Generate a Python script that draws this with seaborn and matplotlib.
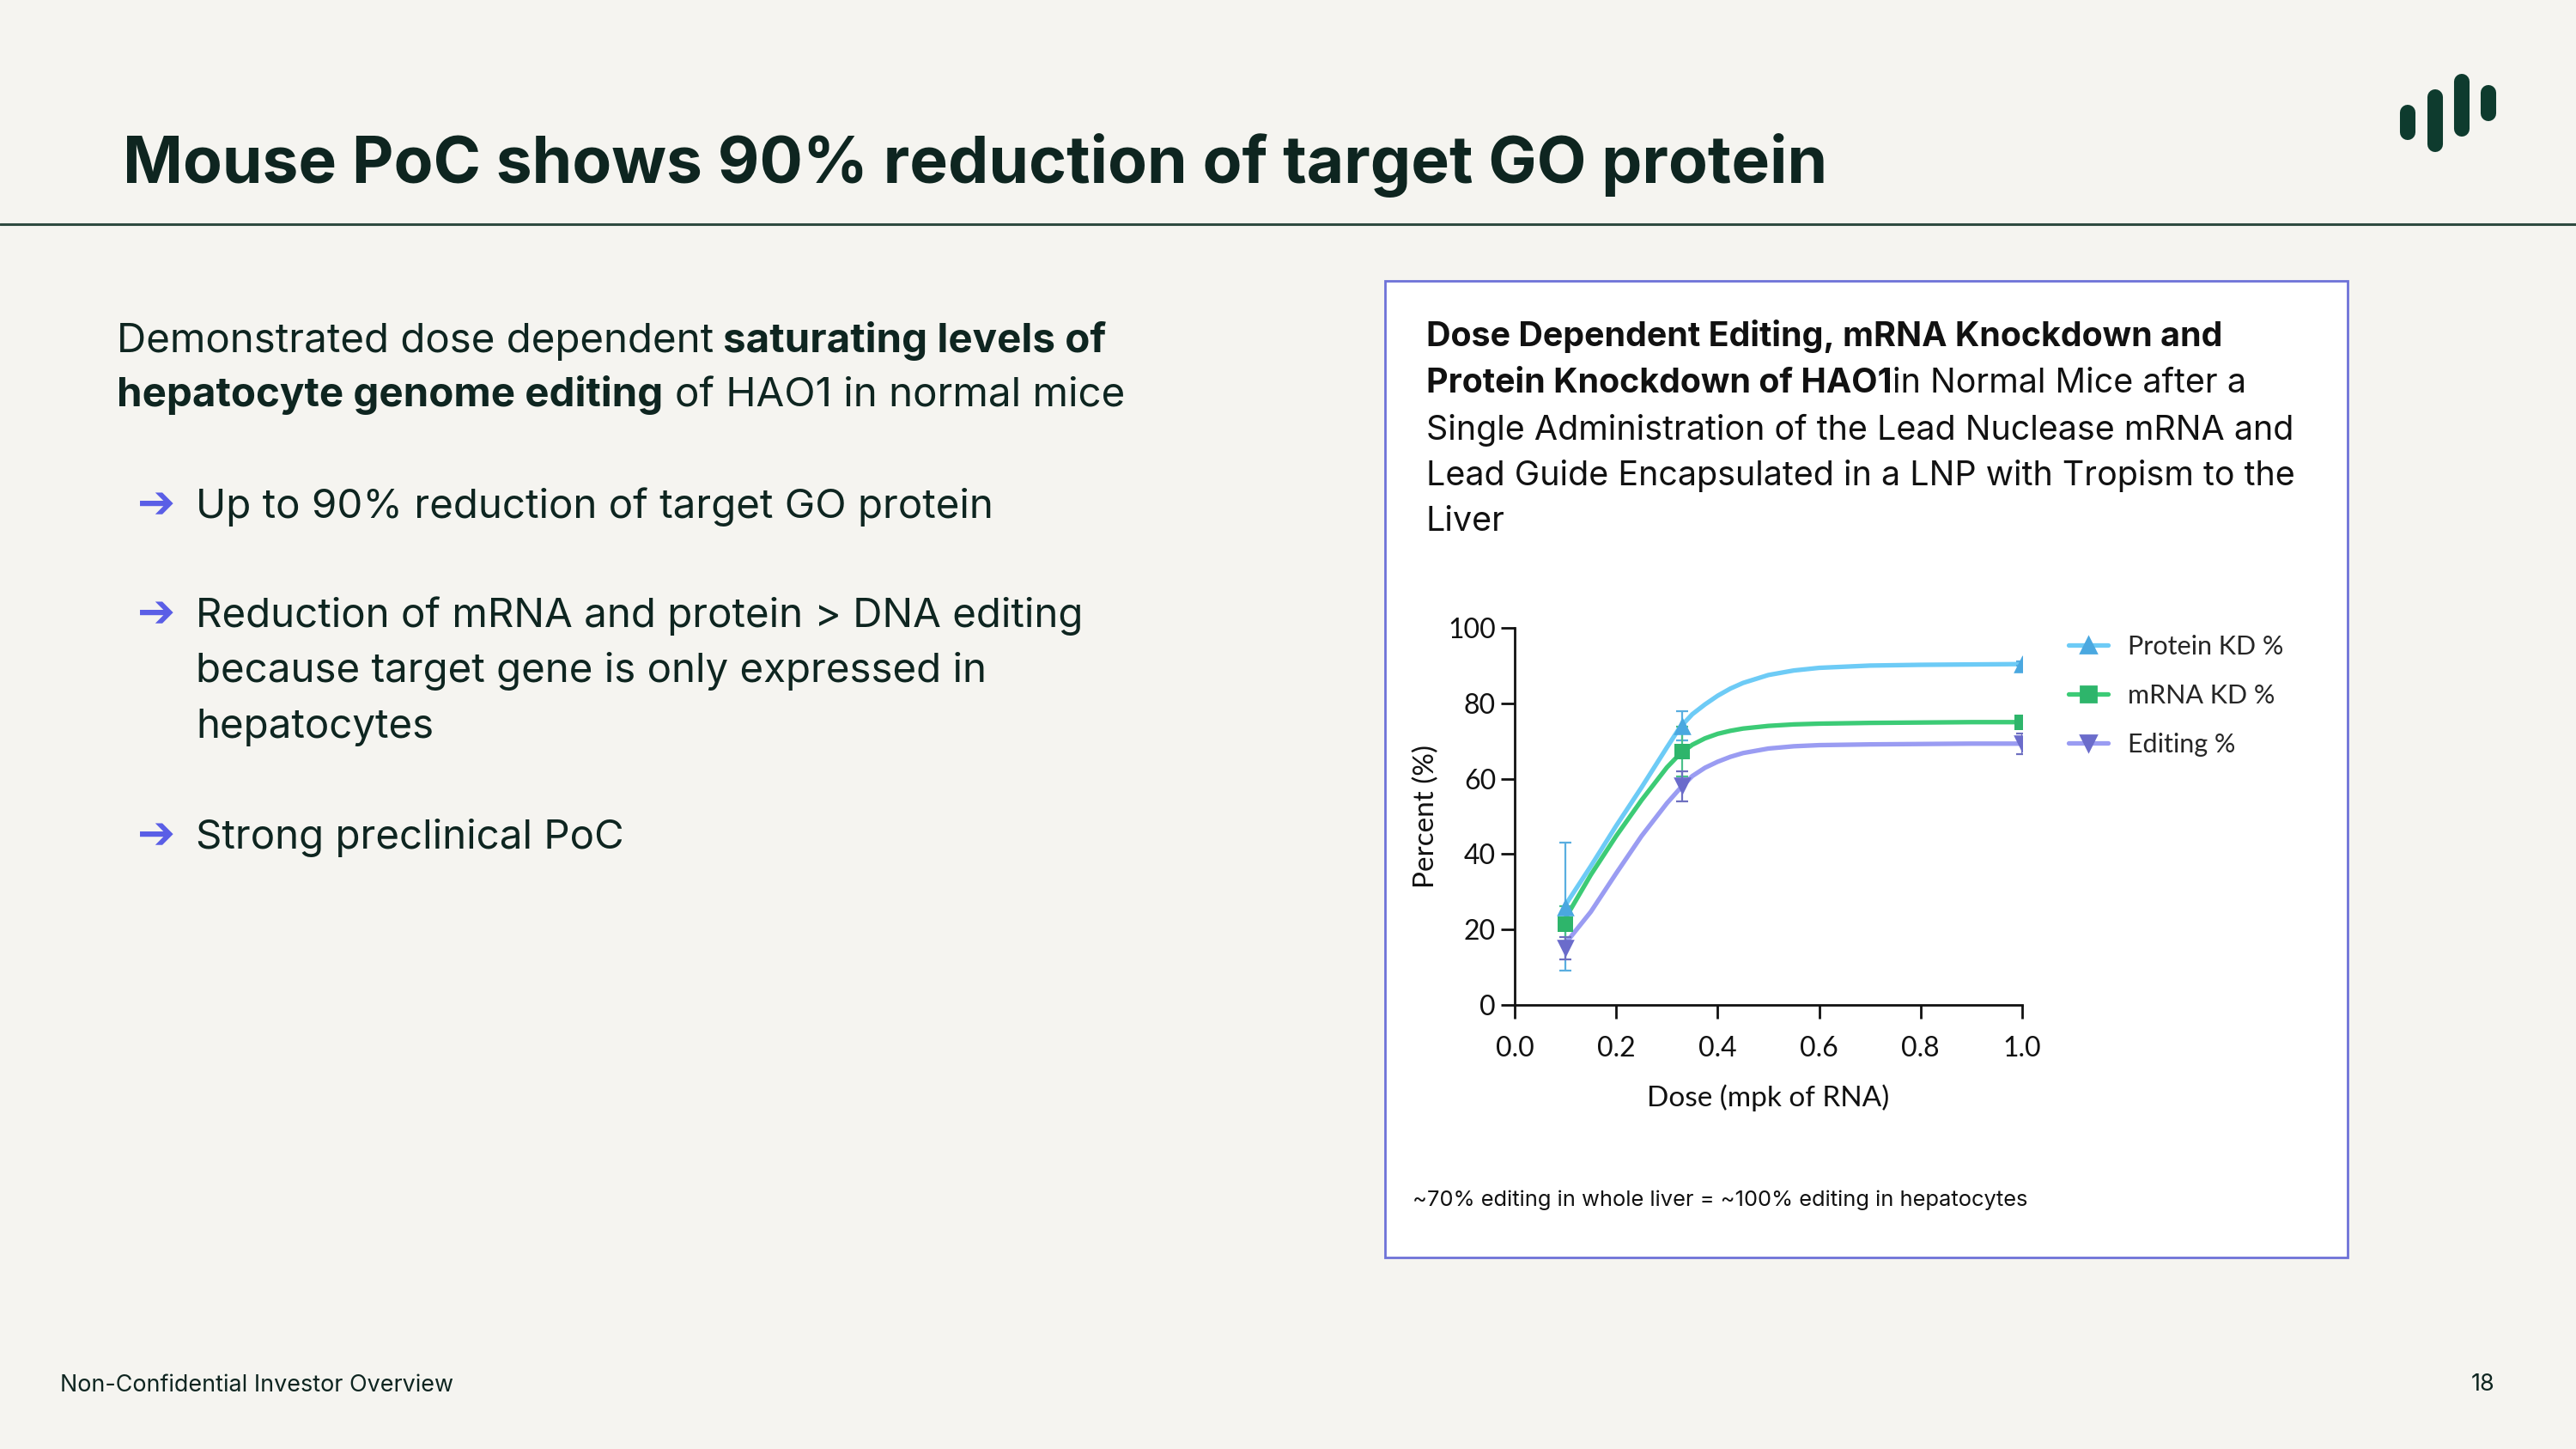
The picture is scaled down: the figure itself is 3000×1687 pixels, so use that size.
import numpy as np
import pandas as pd
import matplotlib
matplotlib.use("Agg")
import matplotlib.pyplot as plt
import seaborn as sns
from matplotlib.lines import Line2D
from matplotlib.patches import Rectangle

# ---------------- data ----------------
doses = [0.1, 0.33, 1.0]
protein_mean = [26.0, 74.0, 90.5]
protein_sd = [17.0, 3.8, 0.6]
mrna_mean = [21.5, 67.2, 75.0]
mrna_sd = [4.6, 6.5, 0.6]
editing_mean = [15.0, 58.0, 69.3]
editing_sd = [3.0, 4.0, 2.7]

# fitted curves
fit_dose = [0.1, 0.15, 0.2, 0.25, 0.3, 0.325, 0.35, 0.375, 0.4, 0.425, 0.45,
            0.5, 0.55, 0.6, 0.7, 0.8, 0.9, 1.0]
protein_fit = [26.5, 36.8, 47.5, 57.7, 68.3, 73.5, 77.1, 79.7, 82.0, 83.9, 85.4,
               87.5, 88.7, 89.4, 90.0, 90.2, 90.3, 90.4]
mrna_fit = [23.0, 34.5, 44.8, 54.3, 63.0, 66.5, 69.0, 70.7, 71.9, 72.7, 73.3,
            74.0, 74.4, 74.6, 74.8, 74.9, 75.0, 75.0]
editing_fit = [16.3, 24.7, 34.9, 44.8, 53.5, 57.3, 60.7, 62.9, 64.5, 65.8, 66.8,
               68.0, 68.6, 68.9, 69.1, 69.2, 69.3, 69.3]

series_names = ["Protein KD %", "mRNA KD %", "Editing %"]
x_ticks = [0.0, 0.2, 0.4, 0.6, 0.8, 1.0]
y_ticks = [0, 20, 40, 60, 80, 100]

title = "Mouse PoC shows 90% reduction of target GO protein"
box_lines = [
    [("Dose Dependent Editing, mRNA Knockdown and", "bold")],
    [("Protein Knockdown of HAO1", "bold"), ("in Normal Mice after a", "normal")],
    [("Single Administration of the Lead Nuclease mRNA and", "normal")],
    [("Lead Guide Encapsulated in a LNP with Tropism to the", "normal")],
    [("Liver", "normal")],
]
footnote = "~70% editing in whole liver = ~100% editing in hepatocytes"
intro_lines = [
    [("Demonstrated dose dependent", "normal"), (" saturating levels of", "bold")],
    [("hepatocyte genome editing", "bold"), (" of HAO1 in normal mice", "normal")],
]
bullets = [
    ["Up to 90% reduction of target GO protein"],
    ["Reduction of mRNA and protein > DNA editing",
     "because target gene is only expressed in",
     "hepatocytes"],
    ["Strong preclinical PoC"],
]
footer_left = "Non-Confidential Investor Overview"
page_no = "18"

# ---------------- styling ----------------
sns.set_theme(style="ticks")
CHART_FONT = ["Lato", "DejaVu Sans"]
SLIDE_FONT = ["Inter", "DejaVu Sans"]
plt.rcParams["font.family"] = CHART_FONT

W, H = 3000, 1687
BG = "#F5F4F0"
DARK = "#0E2520"
col_line = ["#6DCBF6", "#3CCB76", "#9A9CF2"]
col_mark = ["#4AA8E0", "#2EB56B", "#6B6CCB"]
col_err = ["#5AAEE0", "#4CC08A", "#6E70C0"]
markers = ["^", "s", "v"]
msizes = [55, 38, 55]

fig = plt.figure(figsize=(15, 8.435), dpi=200, facecolor=BG)
renderer = fig.canvas.get_renderer()


def fx(x):
    return x / W


def fy(y):
    return 1 - y / H


def measure(txt, size, weight, family):
    t = fig.text(0, 0, txt, fontsize=size, fontweight=weight, family=family)
    w = t.get_window_extent(renderer).width
    t.remove()
    return w


def rich(x, y, parts, size, color, family):
    for txt, wt in parts:
        if txt.startswith(" "):
            x += measure("a a", size, wt, family) - measure("aa", size, wt, family)
            txt = txt[1:]
        t = fig.text(fx(x), fy(y), txt, fontsize=size, fontweight=wt, color=color,
                     family=family, va="baseline", ha="left")
        x += t.get_window_extent(renderer).width
    return x


# title and rule
fig.text(fx(143), fy(213), title, fontsize=27.0, fontweight="bold", color=DARK,
         family=SLIDE_FONT, va="baseline", ha="left")
fig.add_artist(Line2D([0, 1], [fy(260.5), fy(260.5)], transform=fig.transFigure,
                      color="#2F4A40", lw=1.1))

# logo
for xc, y1, y2 in [(2804, 131, 154), (2835.5, 113, 168), (2867, 95, 150), (2898, 108, 132)]:
    fig.add_artist(Line2D([fx(xc), fx(xc)], [fy(y1), fy(y2)], transform=fig.transFigure,
                          color="#0E3B2E", lw=6.5, solid_capstyle="round"))

# left text
BODY = 17.1
for i, parts in enumerate(intro_lines):
    rich(136, [409.5, 473][i], parts, BODY, DARK, SLIDE_FONT)
bullet_baselines = [[603], [730.4, 794.5, 859], [988.5]]
for lines, bases in zip(bullets, bullet_baselines):
    fig.text(fx(160), fy(bases[0]), "\u2794", fontsize=19, color="#5A5EE6",
             family=["DejaVu Sans"], va="baseline", ha="left", fontweight="bold")
    for ln, b in zip(lines, bases):
        fig.text(fx(228), fy(b), ln, fontsize=BODY, color=DARK, family=SLIDE_FONT,
                 va="baseline", ha="left")

# white box
fig.add_artist(Rectangle((fx(1613), fy(1464)), fx(2734) - fx(1613), fy(327) - fy(1464),
                         transform=fig.transFigure, facecolor="white",
                         edgecolor="#6E72D8", lw=1.0, zorder=-5))
for parts, b in zip(box_lines, [403.3, 456.7, 511.5, 565, 618.3]):
    rich(1661, b, parts, 14.2, "#111111", SLIDE_FONT)
fig.text(fx(1645), fy(1404), footnote, fontsize=9.2, color="#111111", family=SLIDE_FONT,
         va="baseline", ha="left")

# footer
fig.text(fx(70), fy(1620.5), footer_left, fontsize=9.7, color=DARK, family=SLIDE_FONT,
         va="baseline", ha="left")
fig.text(fx(2905), fy(1619), page_no, fontsize=9.7, color=DARK, family=SLIDE_FONT,
         va="baseline", ha="right")

# ---------------- chart ----------------
ax = fig.add_axes([fx(1764), fy(1170), fx(2355) - fx(1764), fy(731) - fy(1170)])
ax.set_facecolor("none")

means = [protein_mean, mrna_mean, editing_mean]
sds = [protein_sd, mrna_sd, editing_sd]

fit_df = pd.DataFrame({"dose": fit_dose * 3,
                       "value": protein_fit + mrna_fit + editing_fit,
                       "series": sum([[n] * len(fit_dose) for n in series_names], [])})
sns.lineplot(data=fit_df, x="dose", y="value", hue="series", hue_order=series_names,
             palette=col_line, linewidth=1.9, sort=False, legend=False, ax=ax,
             zorder=2)

for i in range(3):
    ax.errorbar(doses, means[i], yerr=sds[i], fmt="none", ecolor=col_err[i],
                elinewidth=0.8, capsize=2.4, capthick=0.8, zorder=3)
    sns.scatterplot(x=doses, y=means[i], marker=markers[i], s=msizes[i],
                    color=col_mark[i], edgecolor=col_mark[i], linewidth=0,
                    ax=ax, zorder=4, legend=False)

ax.set_xlim(0, 1.0)
ax.set_ylim(0, 100)
ax.set_xticks(x_ticks)
ax.set_xticklabels([f"{v:.1f}" for v in x_ticks])
ax.set_yticks(y_ticks)
ax.set_yticklabels([str(v) for v in y_ticks])
for s in ["top", "right"]:
    ax.spines[s].set_visible(False)
for s in ["left", "bottom"]:
    ax.spines[s].set_linewidth(1.0)
    ax.spines[s].set_color("#111111")
ax.tick_params(axis="both", direction="out", length=5.9, width=1.0, color="#111111",
               labelsize=11.5, labelcolor="#111111")
ax.tick_params(axis="x", pad=7)
ax.tick_params(axis="y", pad=2)
ax.set_xlabel("Dose (mpk of RNA)", fontsize=12, color="#111111")
ax.set_ylabel("Percent (%)", fontsize=12, color="#111111")
ax.xaxis.set_label_coords(0.5, (1170 - 1278) / 439)
ax.xaxis.label.set_va("center")
ax.yaxis.set_label_coords((1661 - 1764) / 591, 0.5)
ax.yaxis.label.set_va("center")

handles = [Line2D([], [], color=col_line[i], lw=1.9, marker=markers[i], markersize=6.5,
                  markerfacecolor=col_mark[i], markeredgecolor=col_mark[i])
           for i in range(3)]
fig.legend(handles, series_names, loc="upper left", bbox_to_anchor=(fx(2409), fy(739)),
           bbox_transform=fig.transFigure, frameon=False, borderpad=0, borderaxespad=0,
           handlelength=1.5, handletextpad=0.75, labelspacing=0.95, fontsize=11,
           numpoints=1)

fig.savefig("out.png", dpi=200, facecolor=BG)
